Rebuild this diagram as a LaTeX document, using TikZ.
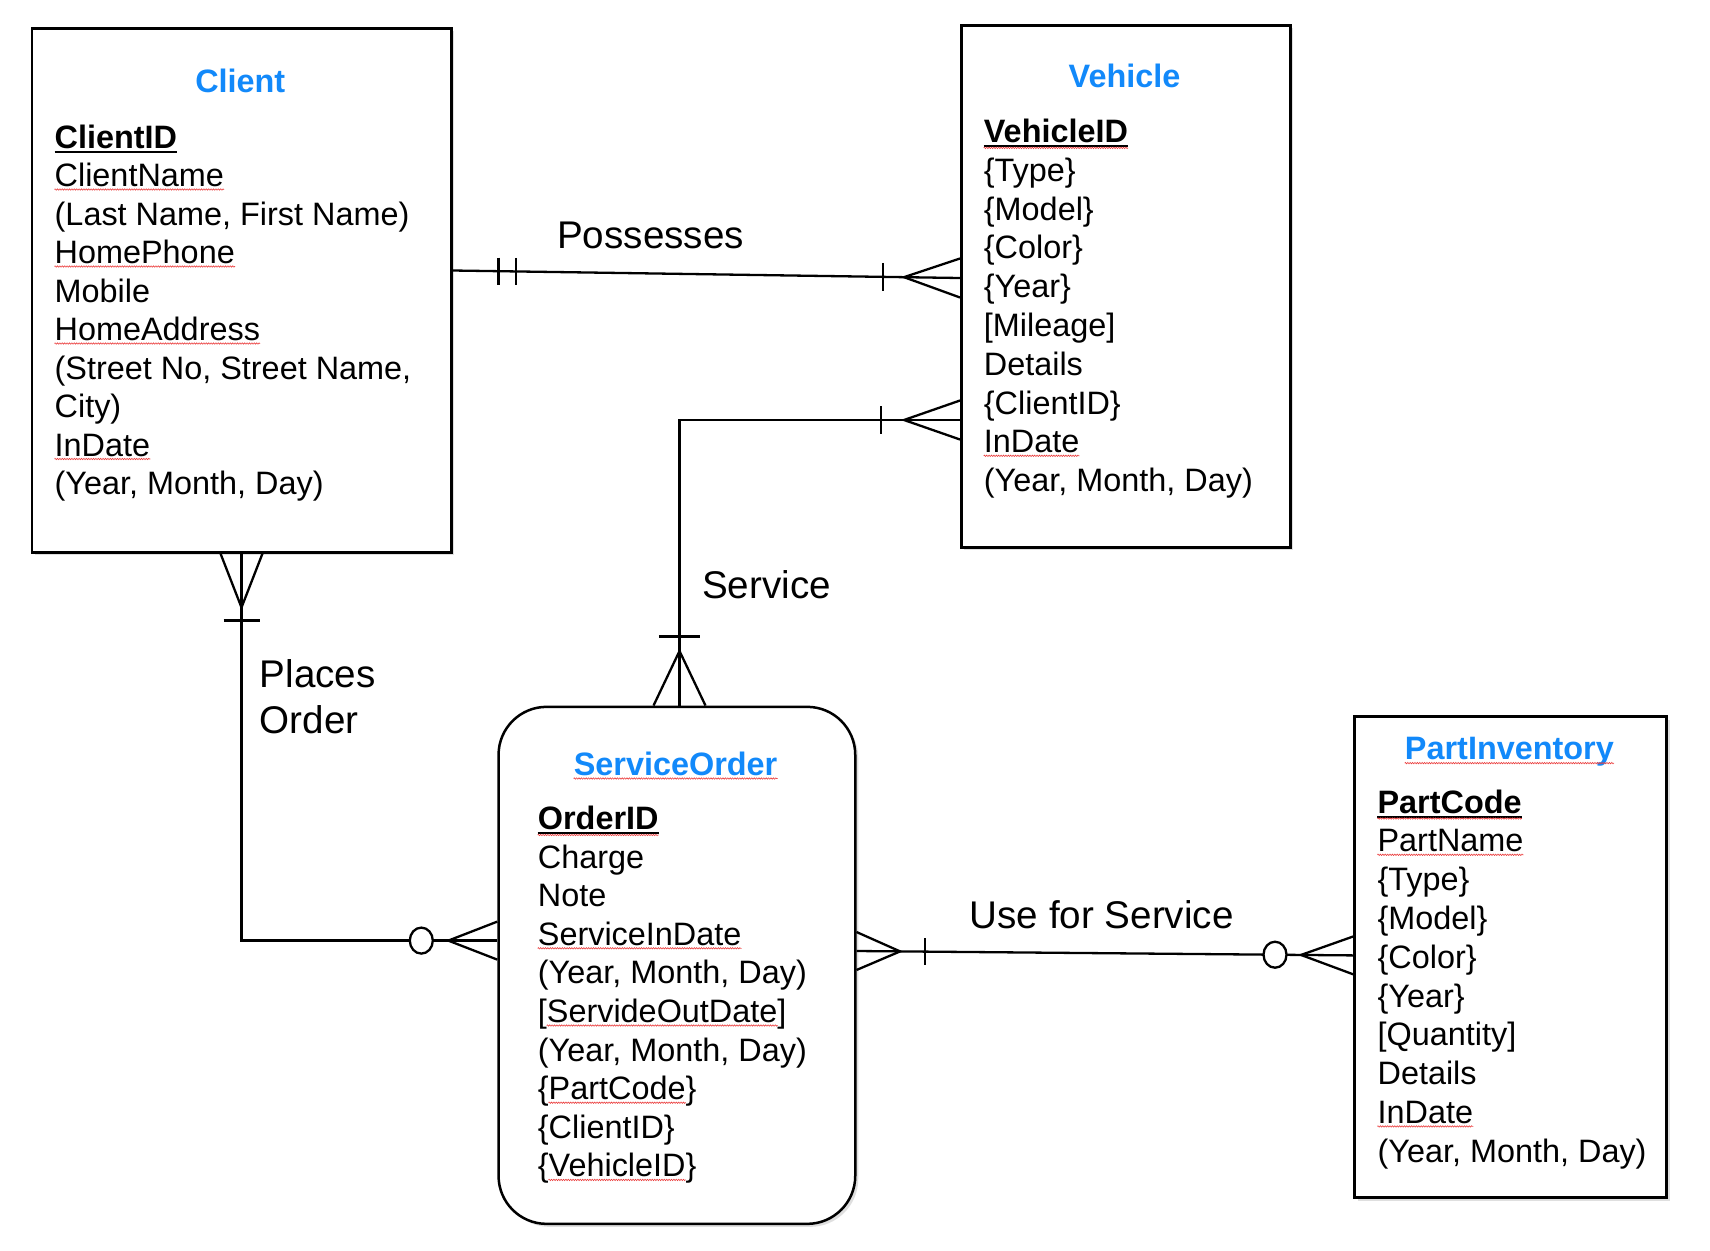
\documentclass[tikz,border=0pt]{standalone}
\usepackage{fontspec}
\setmainfont{Liberation Sans}
\usetikzlibrary{calc,decorations.pathmorphing,shadows}
\definecolor{ttl}{RGB}{18,137,250}
\definecolor{spell}{RGB}{235,60,60}
\newcommand{\attrfont}{\fontsize{32.4}{38.7}\selectfont}
\newcommand{\relfont}{\fontsize{38.6}{46}\selectfont}
\begin{document}
\begin{tikzpicture}[x=1pt,y=-1pt,
  box/.style={draw, line width=2.5pt, fill=white, inner sep=0pt, anchor=north west,
    drop shadow={shadow xshift=3pt, shadow yshift=-3pt, opacity=0.25}},
  attr/.style={anchor=base west, inner sep=0pt, font=\attrfont},
  ttlnode/.style={anchor=base, inner sep=0pt, font=\attrfont\bfseries, text=ttl},
  rel/.style={anchor=base west, inner sep=0pt, font=\relfont},
  conn/.style={line width=2.3pt},
  ul/.style={line width=2pt},
  wavy/.style={draw=spell, line width=0.6pt, decorate, decoration={zigzag, amplitude=0.7pt, segment length=2.4pt}},
  oring/.style={line width=2.3pt, fill=white}]
\fill[white] (0,0) rectangle (1710,1250);
\useasboundingbox (0,0) rectangle (1710,1250);

% entity boxes
\node[box, minimum width=419.5pt, minimum height=524pt] (client) at (30.5,27) {};
\node[box, minimum width=329pt, minimum height=522pt] (vehicle) at (960,24) {};
\node[box, rounded corners=48pt, minimum width=356.7pt, minimum height=517pt] (so) at (497.3,705.6) {};
\node[box, minimum width=312pt, minimum height=481pt] (pi) at (1353.4,715.4) {};

% titles
\node[ttlnode] (clientT) at (240.25,92) {Client};
\node[ttlnode] (vehicleT) at (1124.5,87.8) {Vehicle};
\node[ttlnode] (soT) at (675.6,775) {ServiceOrder};
\node[ttlnode] (piT) at (1509.4,759.6) {PartInventory};
\draw[wavy] ([yshift=-3.5pt]soT.base west) -- ([yshift=-3.5pt]soT.base east);
\draw[wavy] ([yshift=-3.5pt]piT.base west) -- ([yshift=-3.5pt]piT.base east);

% Client attributes
\foreach \t [count=\i from 0] in {\textbf{ClientID}, ClientName, {(Last Name, First Name)}, HomePhone, Mobile, HomeAddress, {(Street No, Street Name,}, City), InDate, {(Year, Month, Day)}}
  \node[attr] (c\i) at (54.5,148+38.5*\i) {\t};
\draw[ul] ([yshift=-3.5pt]c0.base west) -- ([yshift=-3.5pt]c0.base east);
\foreach \n in {c1,c3,c5,c8}
  \draw[wavy] ([yshift=-3pt]\n.base west) -- ([yshift=-3pt]\n.base east);

% Vehicle attributes
\foreach \t [count=\i from 0] in {\textbf{VehicleID}, \{Type\}, \{Model\}, \{Color\}, \{Year\}, [Mileage], Details, \{ClientID\}, InDate, {(Year, Month, Day)}}
  \node[attr] (v\i) at (983.7,142.4+38.8*\i) {\t};
\draw[ul] ([yshift=-3.5pt]v0.base west) -- ([yshift=-3.5pt]v0.base east);
\draw[wavy] ([yshift=-5.5pt]v0.base west) -- ([yshift=-5.5pt]v0.base east);
\draw[wavy] ([yshift=-3pt]v8.base west) -- ([yshift=-3pt]v8.base east);

% ServiceOrder attributes
\foreach \t [count=\i from 0] in {\textbf{OrderID}, Charge, Note, ServiceInDate, {(Year, Month, Day)}, [ServideOutDate], {(Year, Month, Day)}, \{PartCode\}, \{ClientID\}, \{VehicleID\}}
  \node[attr] (s\i) at (537.7,829.5+38.6*\i) {\t};
\draw[ul] ([yshift=-3.5pt]s0.base west) -- ([yshift=-3.5pt]s0.base east);
\draw[wavy] ([yshift=-5.5pt]s0.base west) -- ([yshift=-5.5pt]s0.base east);
\draw[wavy] ([yshift=-3pt]s3.base west) -- ([yshift=-3pt]s3.base east);
\draw[wavy] ([yshift=-3pt,xshift=9pt]s5.base west) -- ([yshift=-3pt,xshift=-9pt]s5.base east);
\draw[wavy] ([yshift=-3pt,xshift=10.8pt]s7.base west) -- ([yshift=-3pt,xshift=-10.8pt]s7.base east);
\draw[wavy] ([yshift=-3pt,xshift=10.8pt]s9.base west) -- ([yshift=-3pt,xshift=-10.8pt]s9.base east);

% PartInventory attributes
\foreach \t [count=\i from 0] in {\textbf{PartCode}, PartName, \{Type\}, \{Model\}, \{Color\}, \{Year\}, [Quantity], Details, InDate, {(Year, Month, Day)}}
  \node[attr] (p\i) at (1377.4,813+38.8*\i) {\t};
\draw[ul] ([yshift=-3.5pt]p0.base west) -- ([yshift=-3.5pt]p0.base east);
\draw[wavy] ([yshift=-5.5pt]p0.base west) -- ([yshift=-5.5pt]p0.base east);
\foreach \n in {p1,p8}
  \draw[wavy] ([yshift=-3pt]\n.base west) -- ([yshift=-3pt]\n.base east);

% Possesses: Client -- Vehicle
\coordinate (posA) at ([yshift=-243.5pt]client.north east);
\coordinate (posB) at ([yshift=-254pt]vehicle.north west);
\draw[conn] (posA) -- (posB);
\draw[conn] ($(posA)!46pt!(posB)$) ++(0,-13.6) -- ++(0,27.2);
\draw[conn] ($(posA)!63.6pt!(posB)$) ++(0,-13.6) -- ++(0,27.2);
\draw[conn] ($(posB)!77pt!(posA)$) ++(0,-14) -- ++(0,28);
\coordinate (posC) at ($(posB)!56pt!(posA)$);
\draw[conn] ($(posB)+(0,-19.5)$) -- (posC) -- ($(posB)+(0,19.5)$);

% Service: Vehicle -- ServiceOrder
\coordinate (svA) at ([yshift=-396pt]vehicle.north west);
\coordinate (svB) at ([xshift=182.2pt]so.north west);
\draw[conn] (svA) -| (svB);
\draw[conn] ($(svA)+(-79,-13.6)$) -- ++(0,27.2);
\draw[conn] ($(svA)+(0,-19.5)$) -- ($(svA)+(-56,0)$) -- ($(svA)+(0,19.5)$);
\draw[conn] ($(svB)+(-20.7,-69)$) -- ++(41.4,0);
\draw[conn] ($(svB)+(-26,0)$) -- ($(svB)+(0,-54.6)$) -- ($(svB)+(26,0)$);

% Places Order: Client -- ServiceOrder
\coordinate (poA) at (client.south);
\coordinate (poB) at ([yshift=-235pt]so.north west);
\draw[conn] (poA) |- (poB);
\draw[conn] ($(poA)+(-21,0)$) -- ($(poA)+(0,54)$) -- ($(poA)+(21,0)$);
\draw[conn] ($(poA)+(-18,67)$) -- ++(36,0);
\draw[conn] ($(poB)+(0,-19)$) -- ($(poB)+(-49,0)$) -- ($(poB)+(0,19)$);
\draw[oring] ($(poB)+(-76,0)$) ellipse [x radius=11.5, y radius=13];

% Use for Service: ServiceOrder -- PartInventory
\coordinate (ufA) at ([yshift=-245.4pt]so.north east);
\coordinate (ufB) at ([yshift=-240pt]pi.north west);
\draw[conn] (ufA) -- (ufB);
\draw[conn] ($(ufA)+(0,-19)$) -- ($(ufA)!43.6pt!(ufB)$) -- ($(ufA)+(0,19)$);
\draw[conn] ($(ufA)!68.6pt!(ufB)$) ++(0,-13.6) -- ++(0,27.2);
\draw[conn] ($(ufB)+(0,-19)$) -- ($(ufB)!52.4pt!(ufA)$) -- ($(ufB)+(0,19)$);
\draw[oring] ($(ufB)!78.4pt!(ufA)$) ellipse [x radius=11.5, y radius=13];

% relationship labels
\node[rel] (lPos) at (557,248) {Possesses};
\node[rel] (lSrv) at (702,598) {Service};
\node[rel] (lPl1) at (259.6,687.6) {Places};
\node[rel] (lPl2) at (259.6,733.6) {Order};
\node[rel] (lUse) at (969.5,928.6) {Use for Service};
\end{tikzpicture}
\end{document}
